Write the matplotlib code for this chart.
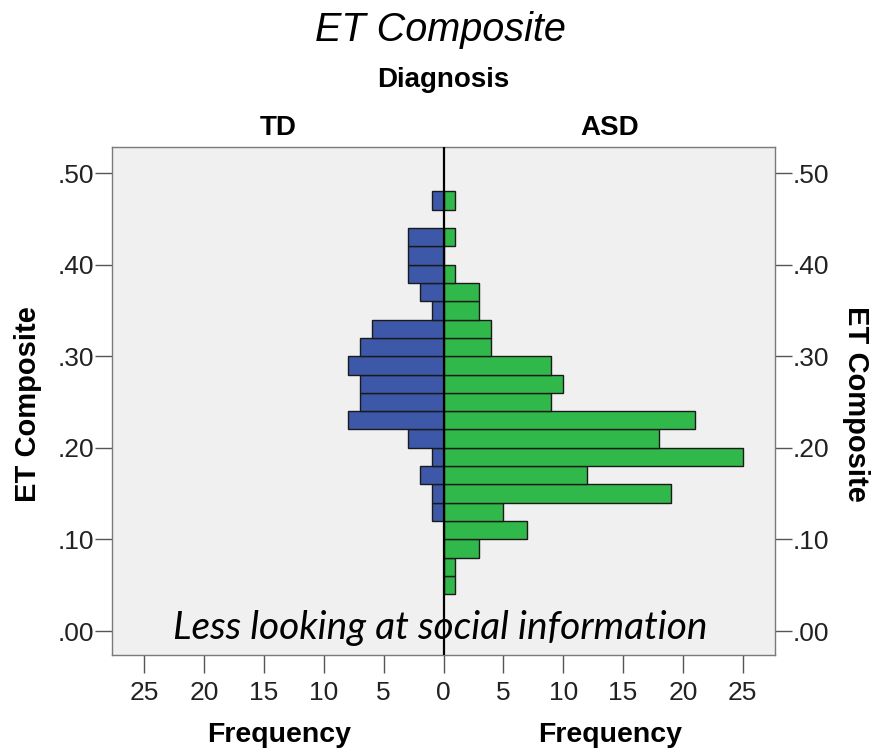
import numpy as np
import matplotlib as mpl; mpl.use('Agg')
import matplotlib.pyplot as plt

mpl.rcParams.update({'font.family': ['Liberation Sans', 'DejaVu Sans']})

# histogram bins (lower edges, width 0.02) and counts per diagnosis group
bin_lower = [0.04, 0.06, 0.08, 0.10, 0.12, 0.14, 0.16, 0.18, 0.20, 0.22, 0.24,
             0.26, 0.28, 0.30, 0.32, 0.34, 0.36, 0.38, 0.40, 0.42, 0.44, 0.46]
td_counts = [0, 0, 0, 0, 1, 1, 2, 1, 3, 8, 7, 7, 8, 7, 6, 1, 2, 3, 3, 3, 0, 1]
asd_counts = [1, 1, 3, 7, 5, 19, 12, 25, 18, 21, 9, 10, 9, 4, 4, 3, 3, 1, 0, 1, 0, 1]
bin_width = 0.02
x_ticks = [-25, -20, -15, -10, -5, 0, 5, 10, 15, 20, 25]
y_ticks = [0.0, 0.1, 0.2, 0.3, 0.4, 0.5]
y_labels = ['.00', '.10', '.20', '.30', '.40', '.50']

BLUE = '#3d57a9'; GREEN = '#31b84b'; BG = '#f0f0f0'; FRAME = '#7a7a7a'
W, H = 873, 749
fig = plt.figure(figsize=(W / 100, H / 100), dpi=100)
ax = fig.add_axes([112 / W, (H - 655) / H, (775 - 112) / W, (655 - 147) / H])
ax.set_facecolor(BG)

lo = np.array(bin_lower); td = np.array(td_counts); asd = np.array(asd_counts)
m = td > 0
ax.barh(lo[m], -td[m], height=bin_width, align='edge', color=BLUE, edgecolor='#1a1a1a', lw=1.0, zorder=2)
m = asd > 0
ax.barh(lo[m], asd[m], height=bin_width, align='edge', color=GREEN, edgecolor='#1a1a1a', lw=1.0, zorder=2)
ax.axvline(0, color='black', lw=1.6, zorder=3)

ax.set_xlim(-27.7, 27.7)
ax.set_ylim(-0.0262, 0.5284)
ax.set_xticks(x_ticks)
ax.set_xticklabels([str(abs(v)) for v in x_ticks])
ax.set_yticks(y_ticks)
ax.set_yticklabels(y_labels)
ax.tick_params(axis='y', left=True, right=True, labelleft=True, labelright=True,
               length=12, width=1.0, color='#555555', labelsize=19, labelcolor='#222222', pad=1)
ax.tick_params(axis='x', length=13, width=1.0, color='#555555', labelsize=19, labelcolor='#222222', pad=6)
for s in ax.spines.values():
    s.set_color(FRAME); s.set_linewidth(1.0)

fig.text(440 / W, 1 - 30 / H, 'ET Composite', ha='center', va='center', fontsize=28.5, style='italic')
fig.text(443 / W, 1 - 80 / H, 'Diagnosis', ha='center', va='center', fontsize=20, fontweight='bold')
fig.text(278 / W, 1 - 128 / H, 'TD', ha='center', va='center', fontsize=20, fontweight='bold')
fig.text(610 / W, 1 - 128 / H, 'ASD', ha='center', va='center', fontsize=20, fontweight='bold')
fig.text(279 / W, 1 - 735 / H, 'Frequency', ha='center', va='center', fontsize=20.5, fontweight='bold')
fig.text(610 / W, 1 - 735 / H, 'Frequency', ha='center', va='center', fontsize=20.5, fontweight='bold')
fig.text(28 / W, 1 - 404 / H, 'ET Composite', ha='center', va='center', fontsize=21, fontweight='bold', rotation=90)
fig.text(856 / W, 1 - 404 / H, 'ET Composite', ha='center', va='center', fontsize=21, fontweight='bold', rotation=270)
fig.text(440 / W, 1 - 628 / H, 'Less looking at social information', ha='center', va='center',
         fontsize=28, style='italic', family=['Lato', 'DejaVu Sans'])

fig.savefig('out.png', dpi=100)
